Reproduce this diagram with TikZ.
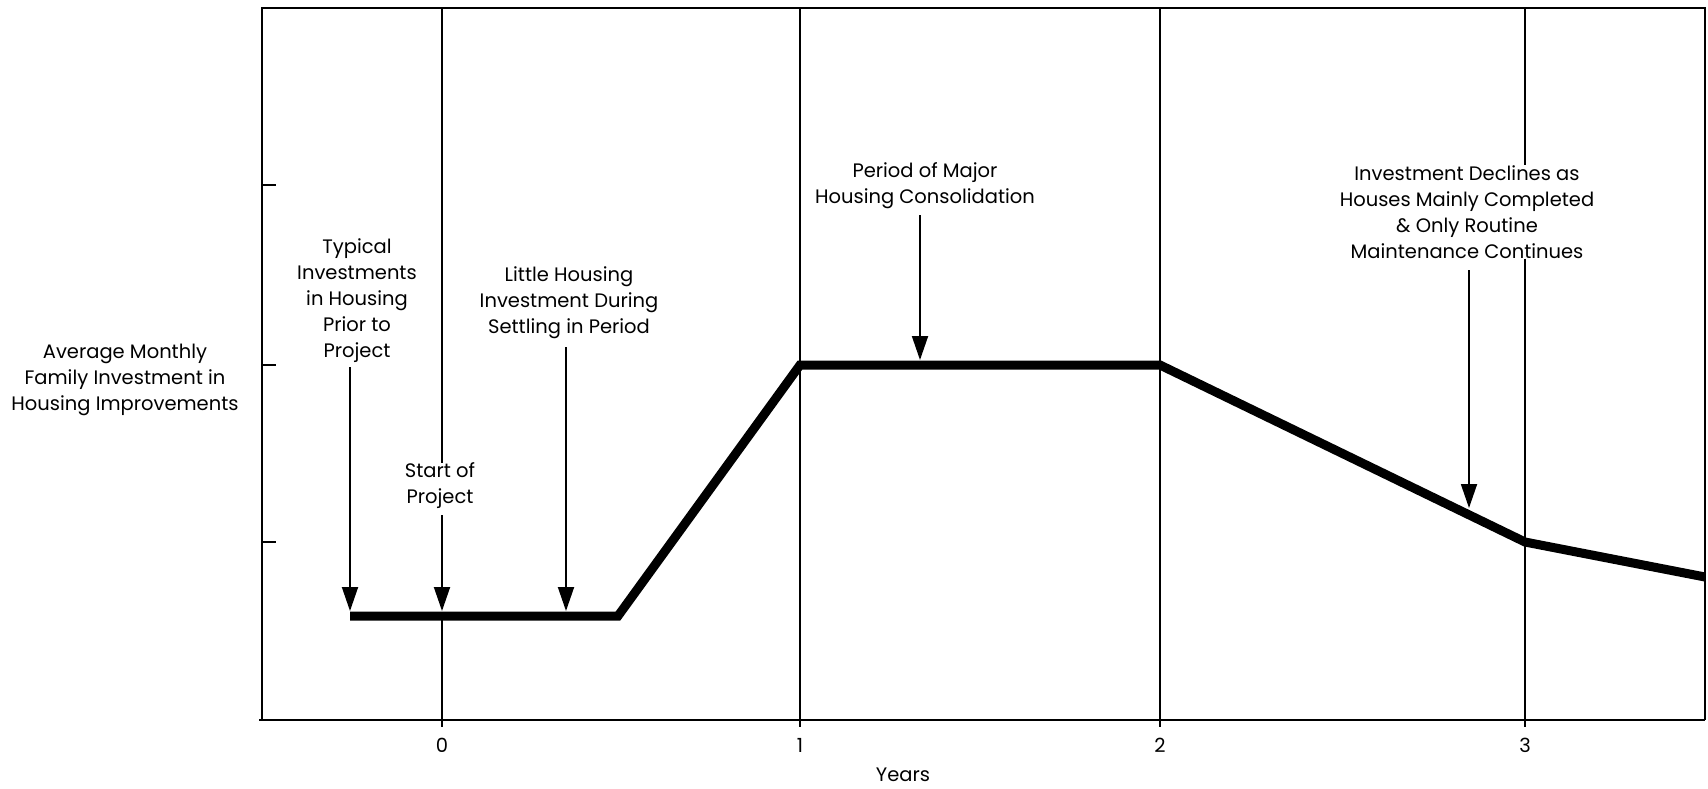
\documentclass[tikz,border=0pt]{standalone}
\usepackage{fontspec}
\setmainfont{Poppins}
\usetikzlibrary{arrows.meta}
\begin{document}
\begin{tikzpicture}[x=1pt,y=-1pt,
  lbl/.style={align=center, font=\fontsize{19.5}{26}\selectfont, inner sep=0pt},
  gridline/.style={line width=1.9pt},
  frameline/.style={line width=2.6pt},
  curveline/.style={line width=9pt, line join=miter},
  arr/.style={line width=1.9pt, -{Triangle[length=24pt,width=16pt]}}]
\useasboundingbox (0,0) rectangle (1708,788);
\fill[white] (0,0) rectangle (1708,788);

% frame and axes
\coordinate (tl) at (262,8);
\coordinate (tr) at (1705,8);
\coordinate (bl) at (262,720);
\coordinate (br) at (1705,720);
\draw[frameline] (bl) -- (tl) -- (tr) -- (br);
\draw[frameline] (259,720) -- (br);

% ticks on the vertical axis
\foreach \yy in {185,365,542} \draw[gridline] (262,\yy) -- ++(14,0);

% curve points
\coordinate (c0) at (350,616);
\coordinate (c1) at (618,616);
\coordinate (c2) at (800,365);
\coordinate (c3) at (1160,365);
\coordinate (c4) at (1525,542);
\coordinate (c5) at (1705,577);

% labels
\node[lbl] (ylab) at (125,380) {Average Monthly\\Family Investment in\\Housing Improvements};
\node[lbl] (typ) at (357,301) {Typical\\Investments\\in Housing\\Prior to\\Project};
\node[lbl] (start) at (440,486) {Start of\\Project};
\node[lbl] (settle) at (569,303) {Little Housing\\Investment During\\Settling in Period};
\node[lbl] (major) at (925,186) {Period of Major\\Housing Consolidation};
\node[lbl] (decl) at (1467,212) {Investment Declines as\\Houses Mainly Completed\\\& Only Routine\\Maintenance Continues};

% year grid lines
\draw[gridline] (442,8) -- (start.north -| 442,0);
\draw[gridline] (c0 -| 442,0) -- (442,727);
\draw[gridline] (800,8) -- (800,727);
\draw[gridline] (1160,8) -- (1160,727);
\draw[gridline] (1525,8) -- (decl.north -| 1525,0);
\draw[gridline] (decl.south -| 1525,0) -- (1525,727);

% investment curve
\draw[curveline] (c0) -- (c1) -- (c2) -- (c3) -- (c4) -- (c5);

% arrows
\coordinate (a1s) at (350,367);  \coordinate (a1e) at (350,611);
\coordinate (a2s) at (442,515);  \coordinate (a2e) at (442,611);
\coordinate (a3s) at (566,347);  \coordinate (a3e) at (566,611);
\coordinate (a4s) at (920,215);  \coordinate (a4e) at (920,360);
\coordinate (a5s) at (1469,270); \coordinate (a5e) at (1469,508);
\draw[arr] (a1s) -- (a1e);
\draw[arr] (a2s) -- (a2e);
\draw[arr] (a3s) -- (a3e);
\draw[arr] (a4s) -- (a4e);
\draw[arr] (a5s) -- (a5e);

% axis labels
\node[lbl] (x0) at (442,745) {0};
\node[lbl] (x1) at (800,745) {1};
\node[lbl] (x2) at (1160,745) {2};
\node[lbl] (x3) at (1525,745) {3};
\node[lbl] (xlab) at (903,775) {Years};
\end{tikzpicture}
\end{document}
